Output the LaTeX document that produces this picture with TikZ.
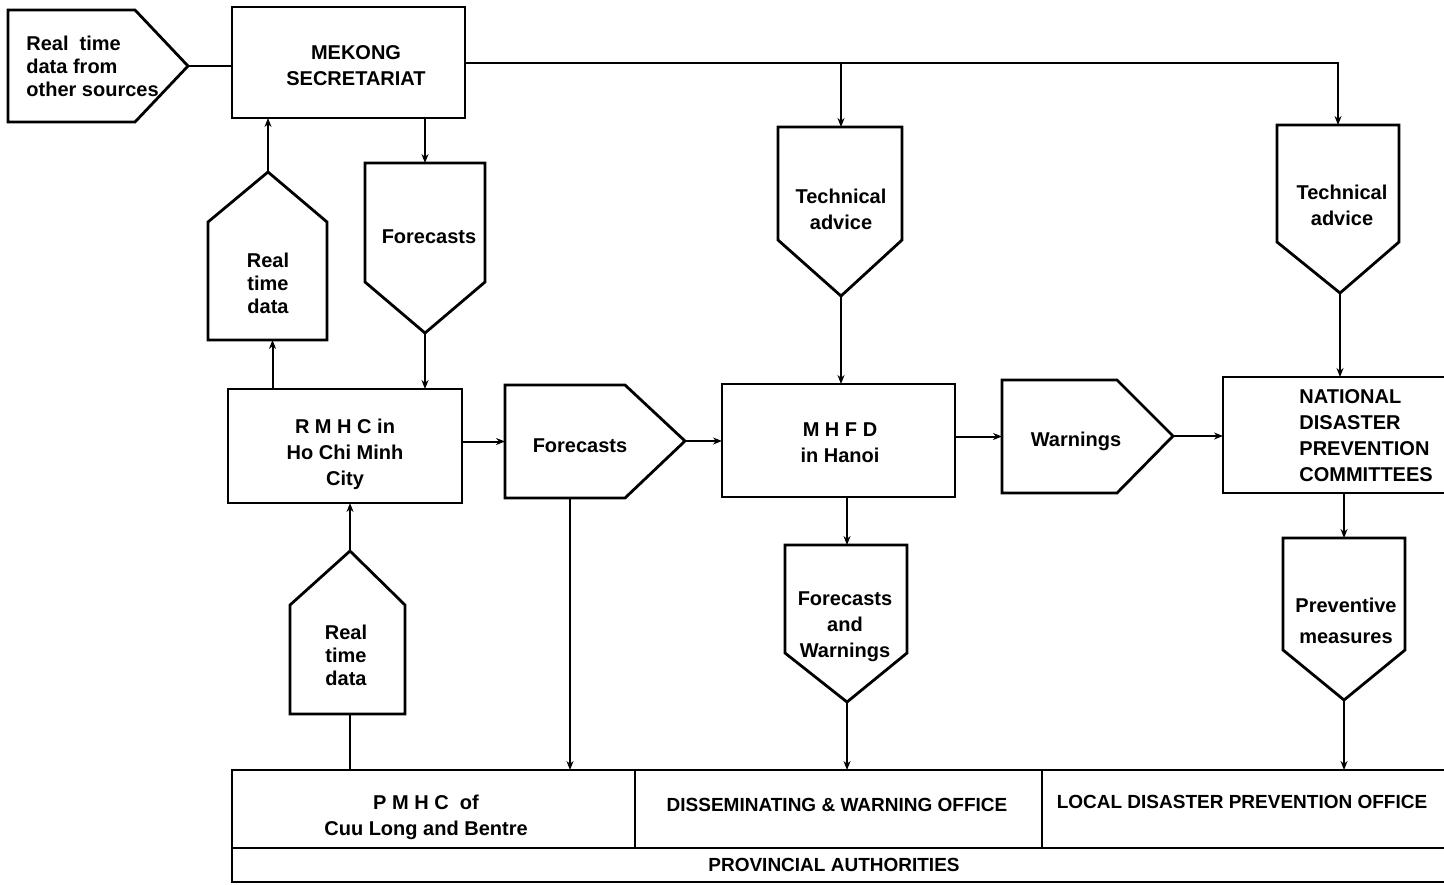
\documentclass[tikz,border=0pt]{standalone}
\usepackage{fontspec}
\setmainfont{Liberation Sans}
\usetikzlibrary{arrows.meta,fit,calc}
\begin{document}
\begin{tikzpicture}[x=0.5pt,y=-0.5pt,
  shp/.style={draw,line width=1.4pt,line join=miter},
  part/.style={inner sep=0pt,outer sep=0pt},
  rbox/.style={draw,line width=1.4pt,inner sep=0pt,outer sep=0pt},
  txt/.style={font=\fontsize{10}{13}\selectfont\bfseries,align=center,inner sep=0pt},
  small/.style={font=\fontsize{9.5}{12}\selectfont\bfseries},
  tight/.style={font=\fontsize{10}{11.5}\selectfont\bfseries},
  conn/.style={line width=1pt},
  arr/.style={conn,-{Stealth[length=4.5pt,width=3.5pt]}}]
\useasboundingbox (0,0) rectangle (1444,884);
\clip (0,0) rectangle (1444,884);

% ---------- rectangles ----------
\node[rbox,fit={(232,7)(465,118)}] (mek) {};
\node[txt] (mek-t) at (356,66) {MEKONG\\SECRETARIAT};

\node[rbox,fit={(228,389)(462,503)}] (rmhc) {};
\node[txt] (rmhc-t) at (345,454) {R M H C in\\Ho Chi Minh\\City};

\node[rbox,fit={(722,384)(955,497)}] (mhfd) {};
\node[txt] (mhfd-t) at (840,443) {M H F D\\in Hanoi};

\node[rbox,fit={(1223,377)(1480,493)}] (ndpc) {};
\node[txt,align=left,anchor=west] (ndpc-t) at (1299,436) {NATIONAL\\DISASTER\\PREVENTION\\COMMITTEES};

\node[rbox,fit={(232,770)(635,848)}] (pmhc) {};
\node[txt] (pmhc-t) at (426,817) {P M H C~~of\\Cuu Long and Bentre};
\node[rbox,fit={(635,770)(1042,848)}] (dis) {};
\node[txt,small] (dis-t) at (837,805) {DISSEMINATING \& WARNING OFFICE};
\node[rbox,fit={(1042,770)(1480,848)}] (ldpo) {};
\node[txt,small] (ldpo-t) at (1242,802) {LOCAL DISASTER PREVENTION OFFICE};
\node[rbox,fit={(232,848)(1480,882)}] (prov) {};
\node[txt,small] (prov-t) at (834,865) {PROVINCIAL AUTHORITIES};

% ---------- pentagons pointing right ----------
\node[part,fit={(8,10)(135,122)}] (src) {};
\coordinate (srctip) at (188,66);
\draw[shp] (src.north west) -- (src.north east) -- (srctip) -- (src.south east) -- (src.south west) -- cycle;
\node[txt,tight,align=left,anchor=west] (src-t) at (26,66) {Real~~time\\data from\\other sources};

\node[part,fit={(505,385)(625,498)}] (fc2) {};
\coordinate (fc2tip) at (685,441);
\draw[shp] (fc2.north west) -- (fc2.north east) -- (fc2tip) -- (fc2.south east) -- (fc2.south west) -- cycle;
\node[txt] (fc2-t) at (580,446) {Forecasts};

\node[part,fit={(1002,380)(1117,493)}] (warn) {};
\coordinate (warntip) at (1173,436);
\draw[shp] (warn.north west) -- (warn.north east) -- (warntip) -- (warn.south east) -- (warn.south west) -- cycle;
\node[txt] (warn-t) at (1076,441) {Warnings};

% ---------- pentagons pointing up ----------
\node[part,fit={(208,222)(327,340)}] (rtd1) {};
\coordinate (rtd1tip) at (268,172);
\draw[shp] (rtd1.south west) -- (rtd1.north west) -- (rtd1tip) -- (rtd1.north east) -- (rtd1.south east) -- cycle;
\node[txt,tight] (rtd1-t) at (268,283) {Real\\time\\data};

\node[part,fit={(290,605)(405,714)}] (rtd2) {};
\coordinate (rtd2tip) at (350,551);
\draw[shp] (rtd2.south west) -- (rtd2.north west) -- (rtd2tip) -- (rtd2.north east) -- (rtd2.south east) -- cycle;
\node[txt,tight] (rtd2-t) at (346,655) {Real\\time\\data};

% ---------- pentagons pointing down ----------
\node[part,fit={(365,163)(485,282)}] (fc1) {};
\coordinate (fc1tip) at (425,333);
\draw[shp] (fc1.south west) -- (fc1.north west) -- (fc1.north east) -- (fc1.south east) -- (fc1tip) -- cycle;
\node[txt] (fc1-t) at (429,237) {Forecasts};

\node[part,fit={(778,127)(902,240)}] (ta1) {};
\coordinate (ta1tip) at (841,296);
\draw[shp] (ta1.south west) -- (ta1.north west) -- (ta1.north east) -- (ta1.south east) -- (ta1tip) -- cycle;
\node[txt] (ta1-t) at (841,209) {Technical\\advice};

\node[part,fit={(1277,125)(1399,242)}] (ta2) {};
\coordinate (ta2tip) at (1340,293);
\draw[shp] (ta2.south west) -- (ta2.north west) -- (ta2.north east) -- (ta2.south east) -- (ta2tip) -- cycle;
\node[txt] (ta2-t) at (1342,205) {Technical\\advice};

\node[part,fit={(785,545)(907,653)}] (fw) {};
\coordinate (fwtip) at (847,702);
\draw[shp] (fw.south west) -- (fw.north west) -- (fw.north east) -- (fw.south east) -- (fwtip) -- cycle;
\node[txt] (fw-t) at (845,627) {Forecasts\\and\\Warnings};

\node[part,fit={(1283,538)(1405,650)}] (pm) {};
\coordinate (pmtip) at (1344,700);
\draw[shp] (pm.south west) -- (pm.north west) -- (pm.north east) -- (pm.south east) -- (pmtip) -- cycle;
\node[txt,font=\fontsize{10}{15.5}\selectfont\bfseries] (pm-t) at (1346,621) {Preventive\\measures};

% ---------- connectors ----------
\draw[conn] (srctip) -- (srctip -| mek.west);
\draw[arr] (mek.east) -- (mek.east -| ta2.north) -- (ta2.north);
\draw[arr] (mek.east -| ta1tip) -- (ta1tip |- ta1.north);
\draw[arr] (rtd1tip) -- (rtd1tip |- mek.south);
\draw[arr] ([xshift=2.5pt]rmhc.north -| rtd1.south) -- ([xshift=2.5pt]rtd1.south);
\draw[arr] (mek.south -| fc1tip) -- (fc1tip |- fc1.north);
\draw[arr] (fc1tip) -- (fc1tip |- rmhc.north);
\draw[arr] (fc2.west -| rmhc.east) -- (fc2.west);
\draw[arr] (fc2tip) -- (fc2tip -| mhfd.west);
\draw[arr] (ta1tip) -- (ta1tip |- mhfd.north);
\draw[arr] (warn.west -| mhfd.east) -- (warn.west);
\draw[arr] (warntip) -- (warntip -| ndpc.west);
\draw[arr] (ta2tip) -- (ta2tip |- ndpc.north);
\draw[arr] (mhfd.south -| fwtip) -- (fwtip |- fw.north);
\draw[arr] (fwtip) -- (fwtip |- dis.north);
\draw[arr] (ndpc.south -| pmtip) -- (pmtip |- pm.north);
\draw[arr] (pmtip) -- (pmtip |- ldpo.north);
\draw[arr] ([xshift=2.5pt]fc2.south) -- ([xshift=2.5pt]fc2.south |- pmhc.north);
\draw[conn] (pmhc.north -| rtd2tip) -- (rtd2tip |- rtd2.south);
\draw[arr] (rtd2tip) -- (rtd2tip |- rmhc.south);
\end{tikzpicture}
\end{document}
